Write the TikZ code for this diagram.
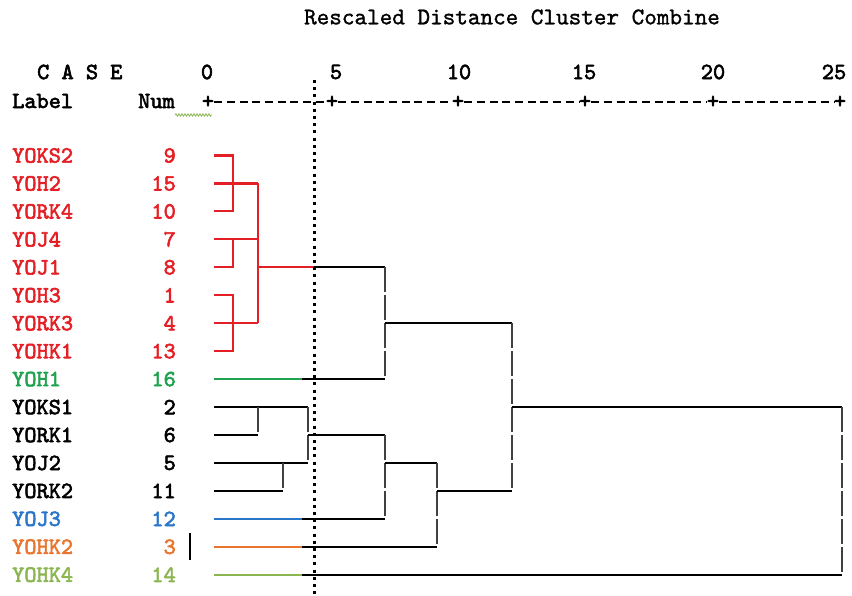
\documentclass[tikz,border=0pt]{standalone}
\usepackage{fontspec}
\newfontfamily\courb{lmmono10-regular}[Extension=.otf,FakeBold=2.6]
\newfontfamily\court{lmmono10-regular}[Extension=.otf,FakeBold=1.2]
\usepackage{tikz}
\usetikzlibrary{decorations.pathmorphing}
\definecolor{cred}{RGB}{228,32,38}
\definecolor{cgreen}{RGB}{32,162,80}
\definecolor{cblue}{RGB}{42,118,200}
\definecolor{corange}{RGB}{232,118,48}
\definecolor{clime}{RGB}{140,182,82}

\begin{document}
\begin{tikzpicture}[x=1pt,y=-1pt,
		lab/.style={font=\courb\fontsize{23.2}{26}\selectfont,inner sep=0pt},
		ttl/.style={font=\court\fontsize{24}{27}\selectfont,inner sep=0pt},
		tree/.style={line width=2.2pt},
		vbar/.style={line width=2.2pt,black!75,dash pattern=on 25pt off 3pt},
		axisdash/.style={line width=2pt,dash pattern=on 8pt off 4.7pt},
		dotline/.style={line width=3pt,dash pattern=on 3pt off 4.2pt}]
		\useasboundingbox (0,0) rectangle (852,596);
		\node[ttl] (title) at (512,17) {Rescaled Distance Cluster Combine};
		\node[lab,anchor=west] (case) at (37,72) {C A S E};
		\node[lab,anchor=west] (label) at (12,101) {Label};
		\node[lab,anchor=west] (numhd) at (138,101) {Num};
		\foreach \v/\x in {0/207,5/336,10/459,15/584,20/713,25/834}
			\node[lab] (t\v) at (\x,72) {\v};
		\foreach \x [count=\k from 0] in {208,332,458,585,713,840}
			\node[lab] (p\k) at (\x,102) {+};
		\draw[axisdash] (p0) -- (p1) (p1) -- (p2) (p2) -- (p3) (p3) -- (p4) (p4) -- (p5);
		\coordinate (sq0) at (175,115);
		\coordinate (sq1) at (212,115);
		\draw[clime,line width=0.8pt,decorate,decoration={snake,amplitude=1.2pt,segment length=3pt}] (sq0) -- (sq1);
		\foreach \lbl/\num/\col [count=\i] in {YOKS2/9/cred,YOH2/15/cred,YORK4/10/cred,YOJ4/7/cred,YOJ1/8/cred,YOH3/1/cred,YORK3/4/cred,YOHK1/13/cred,YOH1/16/cgreen,YOKS1/2/black,YORK1/6/black,YOJ2/5/black,YORK2/11/black,YOJ3/12/cblue,YOHK2/3/corange,YOHK4/14/clime}
		{
			\node[lab,anchor=west,text=\col] (l\i) at (12,{155.5+27.95*(\i-1)}) {\lbl};
			\node[lab,anchor=east,text=\col] (n\i) at (176,{155.5+27.95*(\i-1)}) {\num};
			\coordinate (a\i) at (214,{155.5+27.95*(\i-1)});
		}
		\foreach \c/\x in {x1/233,x2/258,x3/283,x4/308,g/302,x5/385,x6/437,x7/512,x8/842,dv/314}
			\coordinate (\c) at (\x,0);
		\draw[tree,cred] (a1) -| (x1 |- a3) -- (a3);
		\draw[tree,cred] (a2) -- (x2 |- a2);
		\draw[tree,cred] (a4) -| (x1 |- a5) -- (a5);
		\draw[tree,cred] (a4) -- (x2 |- a4);
		\draw[tree,cred] (a6) -| (x1 |- a8) -- (a8);
		\draw[tree,cred] (a7) -- (x2 |- a7);
		\draw[tree,cred] (x2 |- a2) -- (x2 |- a7);
		\draw[tree,cred] (x2 |- a5) -- (dv |- a5);
		\draw[tree] (dv |- a5) -- (x5 |- a5);
		\draw[tree,cgreen] (a9) -- (g |- a9);
		\draw[tree] (g |- a9) -- (x5 |- a9);
		\draw[vbar] (x5 |- a5) -- (x5 |- a9);
		\draw[tree] (x5 |- a7) -- (x7 |- a7);
		\draw[tree] (a10) -- (x4 |- a10);
		\draw[tree] (a11) -- (x2 |- a11);
		\draw[vbar] (x2 |- a10) -- (x2 |- a11);
		\draw[tree] (a12) -- (x4 |- a12);
		\draw[tree] (a13) -- (x3 |- a13);
		\draw[vbar] (x3 |- a12) -- (x3 |- a13);
		\draw[vbar] (x4 |- a10) -- (x4 |- a12);
		\draw[tree] (x4 |- a11) -- (x5 |- a11);
		\draw[tree,cblue] (a14) -- (g |- a14);
		\draw[tree] (g |- a14) -- (x5 |- a14);
		\draw[vbar] (x5 |- a11) -- (x5 |- a14);
		\draw[tree] (x5 |- a12) -- (x6 |- a12);
		\draw[tree,corange] (a15) -- (g |- a15);
		\draw[tree] (g |- a15) -- (x6 |- a15);
		\draw[vbar] (x6 |- a12) -- (x6 |- a15);
		\draw[tree] (x6 |- a13) -- (x7 |- a13);
		\draw[vbar] (x7 |- a7) -- (x7 |- a13);
		\draw[tree] (x7 |- a10) -- (x8 |- a10);
		\draw[tree,clime] (a16) -- (g |- a16);
		\draw[tree] (g |- a16) -- (x8 |- a16);
		\draw[vbar] (x8 |- a10) -- (x8 |- a16);
		\draw[line width=2.5pt] ([shift={(14,-13.5)}]n15.east) -- ++(0,27);
		\coordinate (dtop) at (314,80);
		\coordinate (dbot) at (314,594);
		\draw[dotline] (dtop) -- (dbot);
\end{tikzpicture}
\end{document}
